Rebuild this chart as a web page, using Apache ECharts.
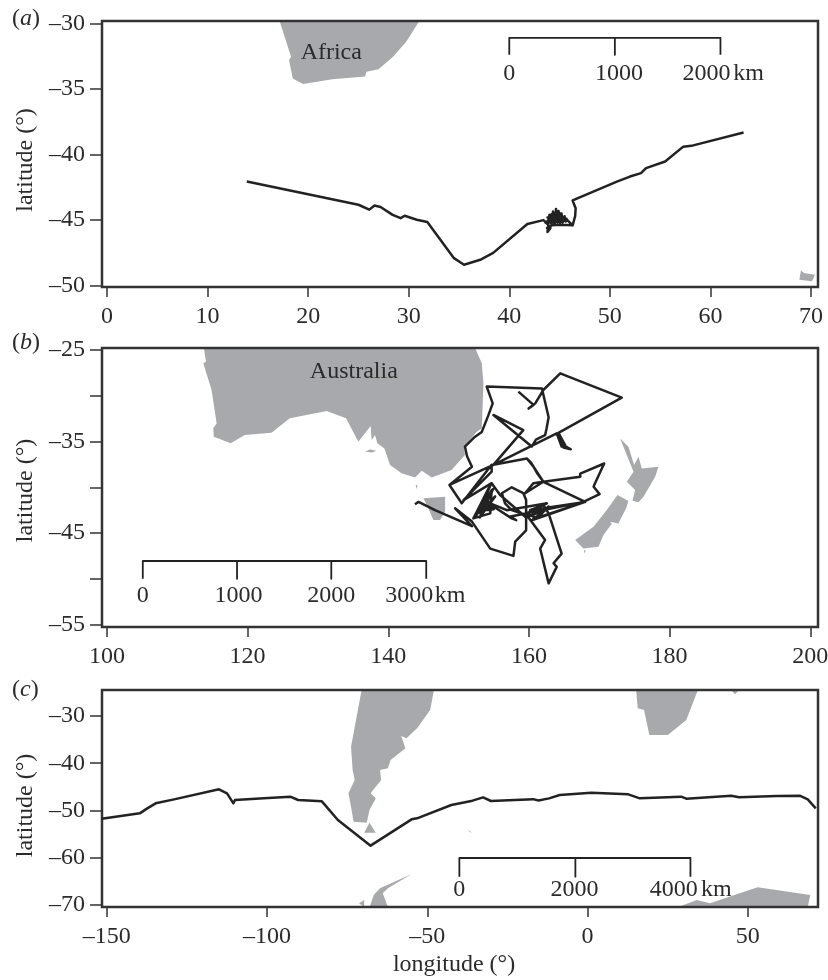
<!DOCTYPE html>
<html><head><meta charset="utf-8">
<style>html,body{margin:0;padding:0;background:#fff}#c{width:828px;height:980px}</style>
<script src="https://cdn.jsdelivr.net/npm/echarts@6/dist/echarts.min.js"></script>
</head><body><div id="c"></div>
<script>
// ---- ticks
const xTicksA=[0,10,20,30,40,50,60,70];
const yTicksA=[-30,-35,-40,-45,-50];
const xTicksB=[100,120,140,160,180,200];
const yTicksB=[-25,-30,-35,-40,-45,-50,-55];
const yLabelsB=[-25,-35,-45,-55];
const xTicksC=[-150,-100,-50,0,50];
const yTicksC=[-30,-40,-50,-60,-70];
// ---- tracks [lon,lat]
const trackA=[[13.9,-42.06],[25,-43.83],[26.08,-44.2],[26.6,-43.88],[27.2,-44],[28.4,-44.6],[29.2,-44.85],[29.6,-44.67],[30.8,-44.97],[31.85,-45.15],[33.15,-46.5],[34.5,-47.9],[35.5,-48.4],[37.2,-48],[38.4,-47.5],[41.8,-45.3],[43.4,-45],
[43.5,-44.9],[43.8,-45.3],[44,-44.6],[44.2,-45.3],[44.35,-44.35],[44.5,-45.3],[44.65,-44.15],[44.8,-45.2],[44.9,-44.3],[45.05,-45.2],[45.2,-44.5],[45.3,-45.2],[45.5,-44.7],[45.6,-45.1],[45.8,-45],[43.7,-45.1],[45.7,-44.9],[43.8,-44.8],[45.5,-44.8],[44,-44.7],[45.2,-44.65],[44.2,-44.55],[45,-44.45],[44.3,-44.95],[45.4,-45.05],[43.6,-45.2],[45.1,-44.95],[43.9,-45.2],[43.8,-45.9],[44.1,-45.6],[43.75,-45.6],[44.2,-45.4],[45.1,-45.35],[46.3,-45.4],[45.9,-45.1],[46.3,-45.4],[46.55,-44.7],[46.6,-44.1],[46.3,-43.5],
[50.7,-42.06],[52,-41.68],[53.1,-41.42],[53.6,-41.04],[55.5,-40.53],[57.3,-39.4],[58.1,-39.34],[63.3,-38.32]];
const trackB=[[143.8,-41.85],[144.3,-41.6],[146.65,-42.5],[151.9,-44.25],[149.5,-42.3],[151.9,-43.75],[154.5,-46.7],[157.8,-47.5],[158.05,-45.95],[159.6,-44.7],[159.6,-41.4],[159.2,-40.65],[157.55,-40],[156.15,-40.65],[156.6,-41.75],[157.55,-42.5],[159.7,-43.05],[162.3,-45.75],[161.6,-46.7],[162.8,-50.5],[163.95,-48.7],[163.5,-48.3],[164.65,-47.25],[162.8,-42.85],[162.05,-41.95],[160.15,-42.5],[168,-41.6],[162.05,-39.4],[160.65,-39.55],[159.45,-40.65],[162.05,-39.4],[167.3,-38.85],[167.3,-38.5],[170.7,-37.4],[169.4,-39.55],[169.2,-39.95],[170.05,-40.75],[167.75,-41.6],[159.7,-42.85],[162.55,-41.75],[156.85,-42.5],[154.5,-41.75],[152.35,-43.05],[154.5,-39.75],[153.05,-42.85],[154.7,-40.3],[154.5,-42.85],[152.1,-43.4],[154.6,-39.7],[152.5,-43.1],[154.9,-40.2],[153,-43.3],[155.2,-41],[153.6,-42.3],[155,-42.4],[152.7,-42.6],[154.95,-42.1],[157.55,-43.4],[158.2,-43.6],[157.4,-43.2],[159.7,-42.85],[161.1,-43.4],[162.8,-42.1],[161.3,-43.3],[168,-41.6],[160.3,-43.65],[162.5,-42.4],[159.6,-43.3],[155.9,-40.85],[154.7,-39.55],[150.7,-41.4],[154.7,-38.3],[154.7,-37.55],[150.45,-41.75],[148.7,-39.75],[154.95,-37.55],[159.7,-36.85],[160.3,-37.3],[160.65,-37.75],[161.2,-38.5],[162.05,-39.4],[160.65,-37.75],[159.7,-36.85],[154.95,-37.55],[148.7,-39.75],[151.9,-37.75],[151.2,-36.6],[150.9,-35.55],[152.3,-34.5],[153.3,-33.95],[154.2,-32.2],[154.85,-30.83],[154,-29],[161.85,-29.2],[162.8,-32.35],[162.5,-33.6],[162.3,-34.3],[161,-34.8],[160.4,-35.55],[154.95,-32.1],[159.2,-33.75],[154.95,-37.55],[163.95,-34.1],[163.7,-34.3],[164.65,-35.55],[165.15,-35.4],[164.2,-34.05],[164.9,-35.65],[165.95,-35.85],[165.15,-35.5],[164.2,-34.05],[173.2,-30.2],[164.45,-27.55],[162.05,-29.37],[160.9,-30.83],[159.95,-31.4],[160.65,-31],[158.5,-29.55]];
const trackC=[[-151.6,-51.73],[-139.7,-50.6],[-137.5,-49.6],[-134.76,-48.48],[-129,-47.64],[-115,-45.52],[-112.5,-46.37],[-110.5,-48.48],[-110,-47.78],[-101,-47.43],[-92.75,-47.07],[-90.3,-47.78],[-82.9,-48.06],[-77.9,-52],[-67.7,-57.44],[-54.9,-51.87],[-53.2,-51.66],[-42.5,-48.84],[-35.9,-47.92],[-32.6,-47.21],[-30.15,-47.99],[-17,-47.6],[-15.3,-47.9],[-12,-47.43],[-8.7,-46.72],[1.15,-46.23],[12.7,-46.58],[16.3,-47.43],[29.2,-47.07],[30.8,-47.5],[44.8,-46.86],[47.3,-47.2],[59,-46.93],[66.2,-46.86],[68.7,-47.64],[71.2,-49.54]];
// ---- land outlines [lon,lat]
const africaA=[[17.16,-29.8],[18.3,-32.54],[18.1,-32.8],[18.47,-34.2],[19.5,-34.62],[22.4,-34.26],[25.66,-34.06],[25.8,-33.68],[27,-33.5],[28.44,-32.54],[29.75,-31.4],[31.06,-29.8]];
const islandA=[[69,-48.83],[69.3,-49.03],[70.4,-49.16],[70.1,-49.67],[68.85,-49.54]];
const australia=[[113.8,-24.78],[114.08,-26.28],[113.7,-26.46],[114.88,-29.37],[115.6,-33.02],[115.12,-33.56],[115.2,-34.47],[117.6,-35.2],[119.6,-34.3],[123.4,-34.04],[126,-32.47],[131.25,-31.67],[134,-32.47],[135.75,-35.02],[137.5,-33.31],[137.64,-34.84],[138.12,-34.3],[138.45,-35.2],[139.45,-35.75],[140.25,-37.57],[141.9,-38.48],[143.8,-38.92],[144.76,-38.19],[146.18,-38.92],[149,-38.12],[150.9,-36.48],[150.78,-35.57],[152.58,-33.93],[153.3,-33.56],[153.53,-28.65],[153.3,-26.46],[152.34,-24.78]];
const tasmania=[[145,-41.2],[148.08,-41.03],[148.08,-42.67],[147.36,-43.58],[146.42,-43.58],[145.7,-42.3]];
const kingIsland=[[143.9,-39.75],[144.15,-39.75],[144.05,-40.2]];
const kangaroo=[[136.7,-36.1],[137.4,-35.86],[138.35,-36],[137.64,-36.2]];
const nzNorth=[[172.97,-34.66],[174.15,-35.57],[174.96,-37.57],[175.58,-36.66],[176.05,-37.94],[178.42,-37.75],[177.95,-38.85],[176.29,-41.03],[175.58,-41.65],[174.72,-41.47],[175.1,-40.3],[173.92,-39.39],[174.87,-38.3]];
const nzSouth=[[172.59,-40.85],[174.15,-41.5],[173.82,-42.3],[172.97,-43.58],[172.73,-43.95],[171.55,-43.76],[171.78,-44],[170.6,-45.22],[169.89,-46.5],[167.75,-46.68],[166.57,-45.77],[169.18,-44.31],[171.07,-42.49]];
const stewart=[[167.85,-46.86],[168.1,-46.95],[167.85,-47.2]];
const southAmerica=[[-70.5,-24.5],[-73.8,-36.5],[-73.3,-41.43],[-72.65,-43.55],[-74.6,-46.37],[-73.8,-49.19],[-73,-52.36],[-68.9,-52.57],[-68.04,-49.9],[-66.06,-47.43],[-67.7,-46.37],[-64.4,-43.55],[-64.75,-41.43],[-62.3,-41.08],[-61.45,-39.31],[-56.84,-36.84],[-58.15,-34.23],[-56.5,-34.73],[-53.2,-32.61],[-49.1,-28.73],[-47.94,-24.5]];
const fuego=[[-69.7,-54.69],[-68.04,-52.57],[-66.06,-54.69]];
const africaC=[[15.16,-24.5],[15.65,-28.38],[17.63,-28.73],[19.28,-34.02],[25.04,-34.02],[30.8,-30.85],[34.43,-24.5]];
const madagascarC=[[44.8,-24.5],[47.3,-24.5],[46,-25.4]];
const antarcticaC=[[28.3,-70.4],[34.1,-68.94],[38.2,-69.65],[53.05,-66.26],[69.5,-67.88],[68.7,-70.4]];
const peninsula=[[-68,-70.4],[-66.7,-67.88],[-64.75,-66.47],[-54.86,-63.44],[-62.3,-66.47],[-63.9,-67.53],[-62.3,-70.4]];
const peninsula2=[[-71.3,-69.65],[-69.7,-68.94],[-69.7,-70.4]];
const georgia=[[-37.5,-54.13],[-36.2,-54.83],[-36.6,-54.4]];
// ---- scale bars [lon,lat] and their texts
const scaleA=[[40,-32.4],[40,-31.1],[50.5,-31.1],[50.5,-32.4],[50.5,-31.1],[61,-31.1],[61,-32.4]];
const scaleB=[[105.1,-50],[105.1,-48.06],[118.5,-48.06],[118.5,-50],[118.5,-48.06],[131.9,-48.06],[131.9,-50],[131.9,-48.06],[145.4,-48.06],[145.4,-50]];
const scaleC=[[-40,-64],[-40,-60.05],[-3.8,-60.05],[-3.8,-64],[-3.8,-60.05],[32.1,-60.05],[32.1,-64]];
const textA=[['Africa',22.3,-32.2],['0',40,-33.8],['1000',50.9,-33.8],['2000',59.6,-33.8],['km',63.8,-33.8]];
const textB=[['Australia',135.1,-27.4],['0',105.1,-51.8],['1000',118.7,-51.8],['2000',131.9,-51.8],['3000',143,-51.8],['km',148.8,-51.8]];
const textC=[['0',-40,-66.8],['2000',-4.1,-66.8],['4000',26.9,-66.8],['km',40.2,-66.8]];

const FONT='"Liberation Serif",serif', INK='#2b2b2b', LAND='#a7a9ac', SIZE=24;
const dash=v=>String(v).replace('-','\u2013');
function xAx(i,min,max,ticks,extra){return Object.assign({type:'value',gridIndex:i,min,max,splitLine:{show:false},axisLine:{show:false,onZero:false},
  axisTick:{show:true,length:10,customValues:ticks,lineStyle:{color:'#333',width:1.5}},
  axisLabel:{margin:18,fontFamily:FONT,fontSize:SIZE,color:INK,customValues:ticks,formatter:dash}},extra||{});}
function yAx(i,min,max,ticks,labels,shift){return {type:'value',gridIndex:i,min,max,splitLine:{show:false},axisLine:{show:false,onZero:false},
  name:'latitude (\u00b0)',nameLocation:'middle',nameGap:61,nameRotate:90,nameTextStyle:{fontFamily:FONT,fontSize:SIZE,color:INK,padding:[0,shift,0,0]},
  axisTick:{show:true,length:12,customValues:ticks,lineStyle:{color:'#333',width:1.5}},
  axisLabel:{margin:17,fontFamily:FONT,fontSize:SIZE,color:INK,customValues:labels,formatter:dash}};}
function land(i,polys){return {type:'custom',xAxisIndex:i,yAxisIndex:i,silent:true,z:1,data:polys.map((_,k)=>[k]),
  renderItem(params,api){const pts=polys[api.value(0)].map(p=>api.coord(p));const c=params.coordSys;
    return {type:'polygon',shape:{points:echarts.graphic.clipPointsByRect(pts,c)},style:{fill:LAND}};}};}
function line(i,d,w,z){return {type:'line',xAxisIndex:i,yAxisIndex:i,data:d,showSymbol:false,symbol:'none',silent:true,z,lineStyle:{color:'#222',width:w,join:'round'}};}
function texts(i,t){return {type:'scatter',xAxisIndex:i,yAxisIndex:i,symbolSize:1,silent:true,z:5,itemStyle:{color:'transparent',opacity:1},
  data:t.map(r=>({name:r[0],value:[r[1],r[2]]})),
  label:{show:true,position:'inside',opacity:1,formatter:'{b}',fontFamily:FONT,fontSize:SIZE,color:INK}};}
function tag(letter,top){return {text:'({i|'+letter+'})',left:7,top,textStyle:{fontFamily:FONT,fontSize:SIZE,fontWeight:'normal',color:INK,rich:{i:{fontFamily:FONT,fontSize:SIZE,fontStyle:'italic',color:INK}}}};}

const chart=echarts.init(document.getElementById('c'),null,{renderer:'canvas'});
chart.setOption({animation:false,backgroundColor:'#fff',
  title:[tag('a',2),tag('b',326),tag('c',673)],
  grid:[{left:102,right:10,top:21,height:266},{left:102,right:10,top:348,height:279},{left:102,right:10,top:690,height:217}].map(g=>Object.assign(g,{show:true,outerBoundsMode:'none',borderColor:'#333',borderWidth:2.5,backgroundColor:'transparent',z:3})),
  xAxis:[xAx(0,-0.5,70.7,xTicksA),xAx(1,99.3,201.1,xTicksB),
    xAx(2,-151.5,71.9,xTicksC,{name:'longitude (\u00b0)',nameLocation:'middle',nameGap:46,nameTextStyle:{fontFamily:FONT,fontSize:SIZE,color:INK,padding:[0,12,0,0]}})],
  yAxis:[yAx(0,-50.1,-29.82,yTicksA,yTicksA,12),yAx(1,-55.27,-24.78,yTicksB,yLabelsB,6),yAx(2,-70.42,-24.5,yTicksC,yTicksC,14)],
  series:[
    land(0,[africaA,islandA]),land(1,[australia,tasmania,kingIsland,kangaroo,nzNorth,nzSouth,stewart]),
    land(2,[southAmerica,fuego,africaC,madagascarC,antarcticaC,peninsula,peninsula2,georgia]),
    line(0,trackA,2.5,3),line(1,trackB,2.5,3),line(2,trackC,2.5,3),
    line(0,scaleA,1.8,4),line(1,scaleB,1.8,4),line(2,scaleC,1.8,4),
    texts(0,textA),texts(1,textB),texts(2,textC)]
});
</script></body></html>
